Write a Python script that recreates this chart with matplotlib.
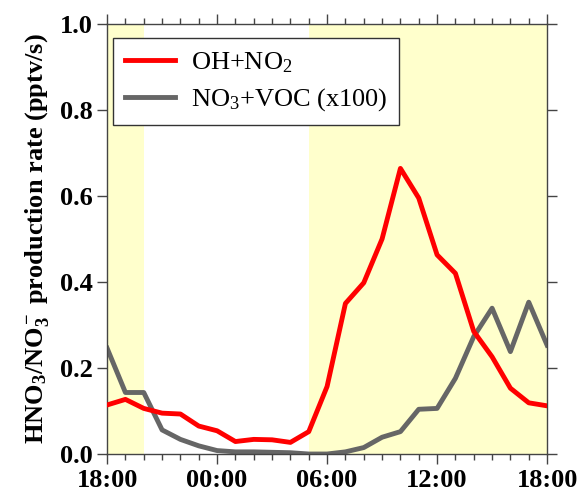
import matplotlib
matplotlib.use("Agg")
import matplotlib.pyplot as plt
from matplotlib.ticker import MultipleLocator, FixedLocator, FormatStrFormatter

plt.rcParams['font.family'] = ['Liberation Serif', 'DejaVu Serif']
plt.rcParams['mathtext.fontset'] = 'custom'
plt.rcParams['mathtext.rm'] = 'Liberation Serif'
plt.rcParams['mathtext.it'] = 'Liberation Serif:italic'
plt.rcParams['mathtext.bf'] = 'Liberation Serif:bold'

# hours after 18:00
hours = list(range(25))
oh_no2 = [0.114, 0.127, 0.106, 0.095, 0.093, 0.065, 0.054, 0.029, 0.034, 0.033,
          0.027, 0.052, 0.157, 0.350, 0.398, 0.500, 0.664, 0.595, 0.463, 0.420,
          0.285, 0.226, 0.153, 0.119, 0.112]
no3_voc = [0.246, 0.143, 0.143, 0.056, 0.034, 0.019, 0.008, 0.005, 0.005, 0.004,
           0.003, 0.000, 0.000, 0.005, 0.015, 0.039, 0.052, 0.104, 0.106, 0.176,
           0.273, 0.339, 0.238, 0.353, 0.253]
day_spans = [(0, 2), (11, 24)]
tick_pos = [0, 6, 12, 18, 24]
tick_labels = ['18:00', '00:00', '06:00', '12:00', '18:00']

fig = plt.figure(figsize=(5.82, 4.97), dpi=100)
ax = fig.add_axes([0.184, 0.0865, 0.756, 0.8655])

for a, b in day_spans:
    ax.axvspan(a, b, color='#ffffcc', lw=0, zorder=0)

ax.plot(hours, oh_no2, color='#ff0000', lw=3.5, label='OH+NO$_2$', zorder=3)
ax.plot(hours, no3_voc, color='#666666', lw=3.5, label='NO$_3$+VOC (x100)', zorder=2)

ax.set_xlim(0, 24)
ax.set_ylim(0, 1.0)
ax.xaxis.set_major_locator(FixedLocator(tick_pos))
ax.xaxis.set_minor_locator(MultipleLocator(1))
ax.set_xticklabels(tick_labels)
ax.yaxis.set_major_locator(MultipleLocator(0.2))
ax.yaxis.set_major_formatter(FormatStrFormatter('%.1f'))
ax.tick_params(which='both', direction='out', top=True, right=True,
               labelsize=19, color='#444444', width=1)
ax.tick_params(which='major', length=7)
ax.tick_params(which='minor', length=4)
for lab in ax.get_xticklabels() + ax.get_yticklabels():
    lab.set_fontweight('bold')
for s in ax.spines.values():
    s.set_color('#444444')
    s.set_linewidth(1)

ax.set_ylabel(r'$\mathbf{HNO_3/NO_3^-}$ production rate (pptv/s)',
              fontsize=19, fontweight='bold', labelpad=6)

leg = ax.legend(loc='upper left', bbox_to_anchor=(0.014, 0.967), fontsize=19,
                frameon=True, fancybox=False, edgecolor='#333333',
                handlelength=1.9, borderpad=0.45, labelspacing=0.45,
                handletextpad=0.6, borderaxespad=0)
leg.get_frame().set_linewidth(1)
leg.get_frame().set_alpha(1)

fig.savefig('out.png', dpi=100)
